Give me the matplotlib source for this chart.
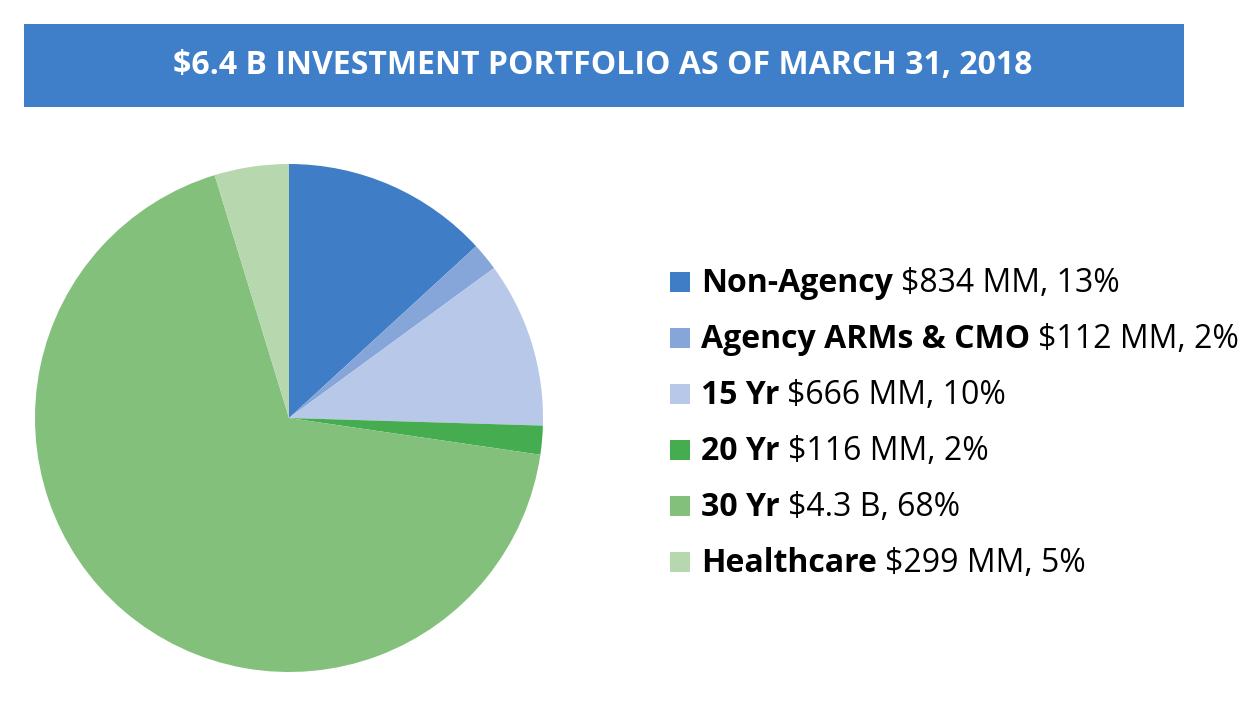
import matplotlib
matplotlib.use("Agg")
import matplotlib.pyplot as plt
from matplotlib.patches import Rectangle

categories = ["Non-Agency", "Agency ARMs & CMO", "15 Yr", "20 Yr", "30 Yr", "Healthcare"]
values_mm = [834, 112, 666, 116, 4300, 299]
value_labels = ["$834 MM, 13%", "$112 MM, 2%", "$666 MM, 10%", "$116 MM, 2%", "$4.3 B, 68%", "$299 MM, 5%"]
colors = ["#3F7EC6", "#86A5D8", "#B8C8E8", "#45AC4F", "#82C07C", "#B7D8AF"]
title = "$6.4 B INVESTMENT PORTFOLIO AS OF MARCH 31, 2018"

W, H = 1260, 716
fig = plt.figure(figsize=(W / 100, H / 100), dpi=100)
fig.patch.set_facecolor("white")

FONT = ["Open Sans", "DejaVu Sans"]
FS = 23

def fx(px):
    return px / W

def fy(py):
    return 1 - py / H

# Title bar
fig.patches.append(Rectangle((fx(24), fy(107)), fx(1184) - fx(24), fy(24) - fy(107),
                             transform=fig.transFigure, facecolor="#3F7EC8", edgecolor="none"))
fig.text(fx(603), fy(66), title, color="white", fontsize=FS, fontweight="bold",
         family=FONT, ha="center", va="center")

# Pie
cx, cy, r = 289, 418, 254
ax = fig.add_axes([fx(cx - r), fy(cy + r), 2 * r / W, 2 * r / H])
ax.pie(values_mm, colors=colors, startangle=90, counterclock=False, radius=1,
       wedgeprops=dict(linewidth=0))
ax.set_xlim(-1, 1)
ax.set_ylim(-1, 1)
ax.set_aspect("equal")
ax.axis("off")

# Legend
fig.canvas.draw()
renderer = fig.canvas.get_renderer()
row0 = 292
step = 56
for i, (cat, lab, col) in enumerate(zip(categories, value_labels, colors)):
    base = row0 + i * step
    fig.patches.append(Rectangle((fx(670), fy(base)), fx(20), 20 / H,
                                 transform=fig.transFigure, facecolor=col, edgecolor="none"))
    t = fig.text(fx(701), fy(base), cat, fontsize=FS, fontweight="bold", family=FONT,
                 ha="left", va="baseline", color="black")
    bb = t.get_window_extent(renderer=renderer)
    fig.text(bb.x1 / W + fx(8), fy(base), lab, fontsize=FS, family=FONT,
             ha="left", va="baseline", color="black")

fig.savefig("out.png", dpi=100)
